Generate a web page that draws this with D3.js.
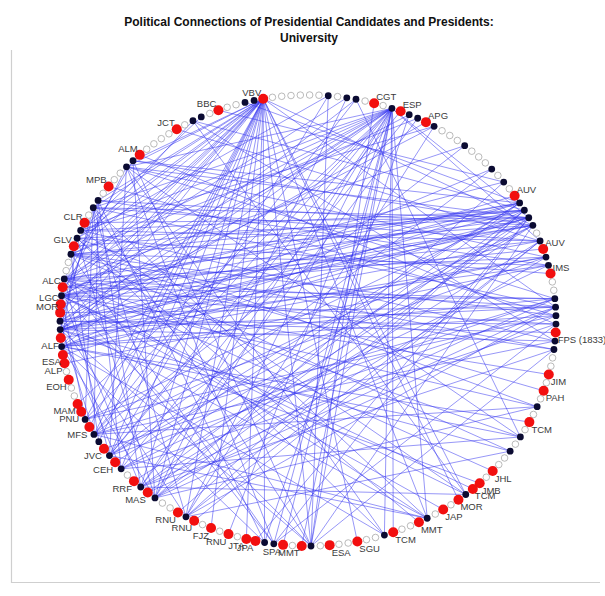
<!DOCTYPE html>
<html><head><meta charset="utf-8">
<script src="https://cdn.jsdelivr.net/npm/d3@7"></script>
<style>body{margin:0;background:#fff}svg{display:block}</style>
</head><body><svg id="c" width="605" height="596"></svg>
<script>
// ---------- data ----------
const titleLines = ["Political Connections of Presidential Candidates and Presidents:", "University"];
const nodeCount = 167;
const labelIdx = [0,12,15,18,31,38,41,48,53,55,59,66,68,69,71,73,76,79,83,86,89,91,94,95,97,99,101,103,107,109,112,114,117,119,120,123,125,126,128,131,132,134,139,142,147,152,157,162];
const labelText = ["VBV","CGT","ESP","APG","AUV","AUV","IMS","FPS (1833)","JIM","PAH","TCM","JHL","JMB","TCM","MOR","JAP","MMT","TCM","SGU","ESA","MMT","SPA","JPA","JTA","RNU","FJZ","RNU","RNU","MAS","RRF","CEH","JVC","MFS","PNU","MAM","EOH","ALP","ESA","ALF","MOR","LGC","ALC","GLV","CLR","MPB","ALM","JCT","BBC"];
const blackIdx = [7,9,10,14,16,17,19,23,27,29,32,33,34,35,37,39,40,44,45,46,47,49,50,57,61,63,70,75,80,88,92,93,102,106,108,111,113,115,116,118,127,129,130,133,135,138,140,141,144,145,150,151,159,160,165,166];
const edges = [
 [0,133],[0,135],[0,129],[0,130],[0,127],[0,138],[0,140],[0,141],[0,144],[0,145],[0,150],[0,151],[0,116],[0,113],[0,108],[0,106],[0,102],[0,93],[0,88],[0,118],[0,134],[0,131],[0,111],[0,75],[0,70],[0,35],[0,45],
 [14,133],[14,135],[14,129],[14,127],[14,130],[14,138],[14,141],[14,116],[14,113],[14,108],[14,106],[14,102],[14,92],[14,88],[14,75],[14,80],[14,144],[14,150],[14,34],[14,37],[14,118],
 [7,140],[7,113],[7,88],[9,135],[9,106],[10,129],[10,116],[10,61],
 [16,133],[16,111],[16,93],[17,138],[17,108],[19,130],[19,141],[19,102],
 [23,135],[23,116],[27,127],[27,113],[29,133],[29,106],[31,129],
 [32,135],[32,130],[32,113],[32,108],[32,151],[32,165],[32,127],
 [33,133],[33,138],[33,141],[33,118],[33,102],[33,159],[33,129],
 [34,127],[34,129],[34,135],[34,140],[34,111],[34,106],[34,144],[34,150],[34,92],
 [35,133],[35,130],[35,138],[35,116],[35,113],[35,145],[35,151],[35,88],
 [37,141],[37,129],[37,108],[37,102],[37,144],[37,134],
 [38,133],[39,135],[39,127],[39,118],[39,106],[39,150],
 [40,138],[40,129],[40,111],[40,145],[41,140],
 [44,133],[44,116],[44,108],[44,150],[44,127],
 [45,135],[45,129],[45,113],[45,102],[45,144],
 [46,138],[46,127],[46,106],[46,118],
 [47,130],[47,133],[47,111],[47,92],
 [49,129],[49,141],[49,116],[49,159],
 [50,135],[50,138],[50,108],[50,88],
 [57,133],[57,140],[57,116],[57,106],
 [61,127],[61,135],[61,150],[61,111],
 [63,129],[63,138],[63,102],
 [70,133],[70,141],[70,108],[70,159],
 [75,135],[75,130],[75,144],[75,113],[75,116],
 [80,127],[80,140],[80,150],
 [88,133],[88,129],[88,144],[88,151],
 [92,135],[92,150],[92,138],[93,127],[93,145],
 [102,144],[102,130],[106,127],[106,140],[106,151],
 [108,133],[108,145],[111,129],[111,144],
 [113,135],[113,150],[115,138],[115,0],
 [116,130],[116,145],[118,133],[118,144],
 [127,140],[129,144],[130,145],[133,150],[135,151],[138,159],[141,160],
 [66,135],[68,129],[73,133],[76,140],[59,127],[53,133],[48,130],[55,138],[89,14],
 [107,33],[107,45],[109,35],[112,32],[126,34],[134,32],[134,44],[131,45],[132,35],[128,39],
 [139,33],[142,34],[147,46],[152,47],[157,37],[162,29],[125,40],[120,14],[117,0],[114,44],
 [103,33],[101,37],[99,0],[97,14],[94,34],[95,0],[91,14],[83,0],[79,14],[71,0],[69,133],
 [12,88],[15,113],[18,129]
];

// ---------- layout ----------
const W = 605, H = 596;
const cx = 308, cy = 320.5, rx = 248, ry = 225.5;
const angle = d3.scaleLinear().domain([0, nodeCount]).range([-10.4, 349.6]);
const xs = d3.scaleLinear().domain([-1, 1]).range([cx - rx, cx + rx]);
const ys = d3.scaleLinear().domain([-1, 1]).range([cy - ry, cy + ry]);

const blackSet = new Set(blackIdx);
const labelMap = new Map(labelIdx.map((d, i) => [d, labelText[i]]));
const nodes = d3.range(nodeCount).map(i => {
  const a = angle(i) * Math.PI / 180;
  const type = labelMap.has(i) ? "red" : (blackSet.has(i) ? "black" : "hollow");
  return {i, type, label: labelMap.get(i) || "", x: xs(Math.sin(a)), y: ys(-Math.cos(a))};
});

const svg = d3.select("#c");
svg.append("rect").attr("width", W).attr("height", H).attr("fill", "#fff");

// panel border
svg.append("path").attr("d", `M11.5,50 V582.5 H600`).attr("fill", "none")
  .attr("stroke", "#cfcfcf").attr("stroke-width", 1.2);

// title
svg.append("g").selectAll("text").data(titleLines).join("text")
  .attr("x", 309).attr("y", (d, i) => 26 + i * 16)
  .attr("text-anchor", "middle")
  .attr("font-family", "Liberation Sans, Arial, Helvetica, sans-serif")
  .attr("font-weight", "bold").attr("font-size", 12).attr("fill", "#111")
  .text(d => d);

// edges
svg.append("g").selectAll("line").data(edges).join("line")
  .attr("x1", d => nodes[d[0]].x).attr("y1", d => nodes[d[0]].y)
  .attr("x2", d => nodes[d[1]].x).attr("y2", d => nodes[d[1]].y)
  .attr("stroke", "#3232f0").attr("stroke-opacity", 0.68).attr("stroke-width", 0.75);

// nodes
const g = svg.append("g");
g.selectAll("circle.h").data(nodes.filter(d => d.type === "hollow")).join("circle")
  .attr("cx", d => d.x).attr("cy", d => d.y).attr("r", 3.3)
  .attr("fill", "#fff").attr("stroke", "#a8a8a8").attr("stroke-width", 0.8);
g.selectAll("circle.b").data(nodes.filter(d => d.type === "black")).join("circle")
  .attr("cx", d => d.x).attr("cy", d => d.y).attr("r", 3.4)
  .attr("fill", "#0b0b32");
g.selectAll("circle.r").data(nodes.filter(d => d.type === "red")).join("circle")
  .attr("cx", d => d.x).attr("cy", d => d.y).attr("r", 5)
  .attr("fill", "#f20f0f");

// labels
svg.append("g").selectAll("text").data(nodes.filter(d => d.label)).join("text")
  .attr("x", d => d.x + (d.x >= cx ? 2 : -2))
  .attr("y", d => d.y + (d.y < cy ? -3 : 10.5))
  .attr("text-anchor", d => d.x >= cx ? "start" : "end")
  .attr("font-family", "Liberation Sans, Arial, Helvetica, sans-serif")
  .attr("font-size", 9.5).attr("fill", "#3a3a3a")
  .text(d => d.label);
</script></body></html>
